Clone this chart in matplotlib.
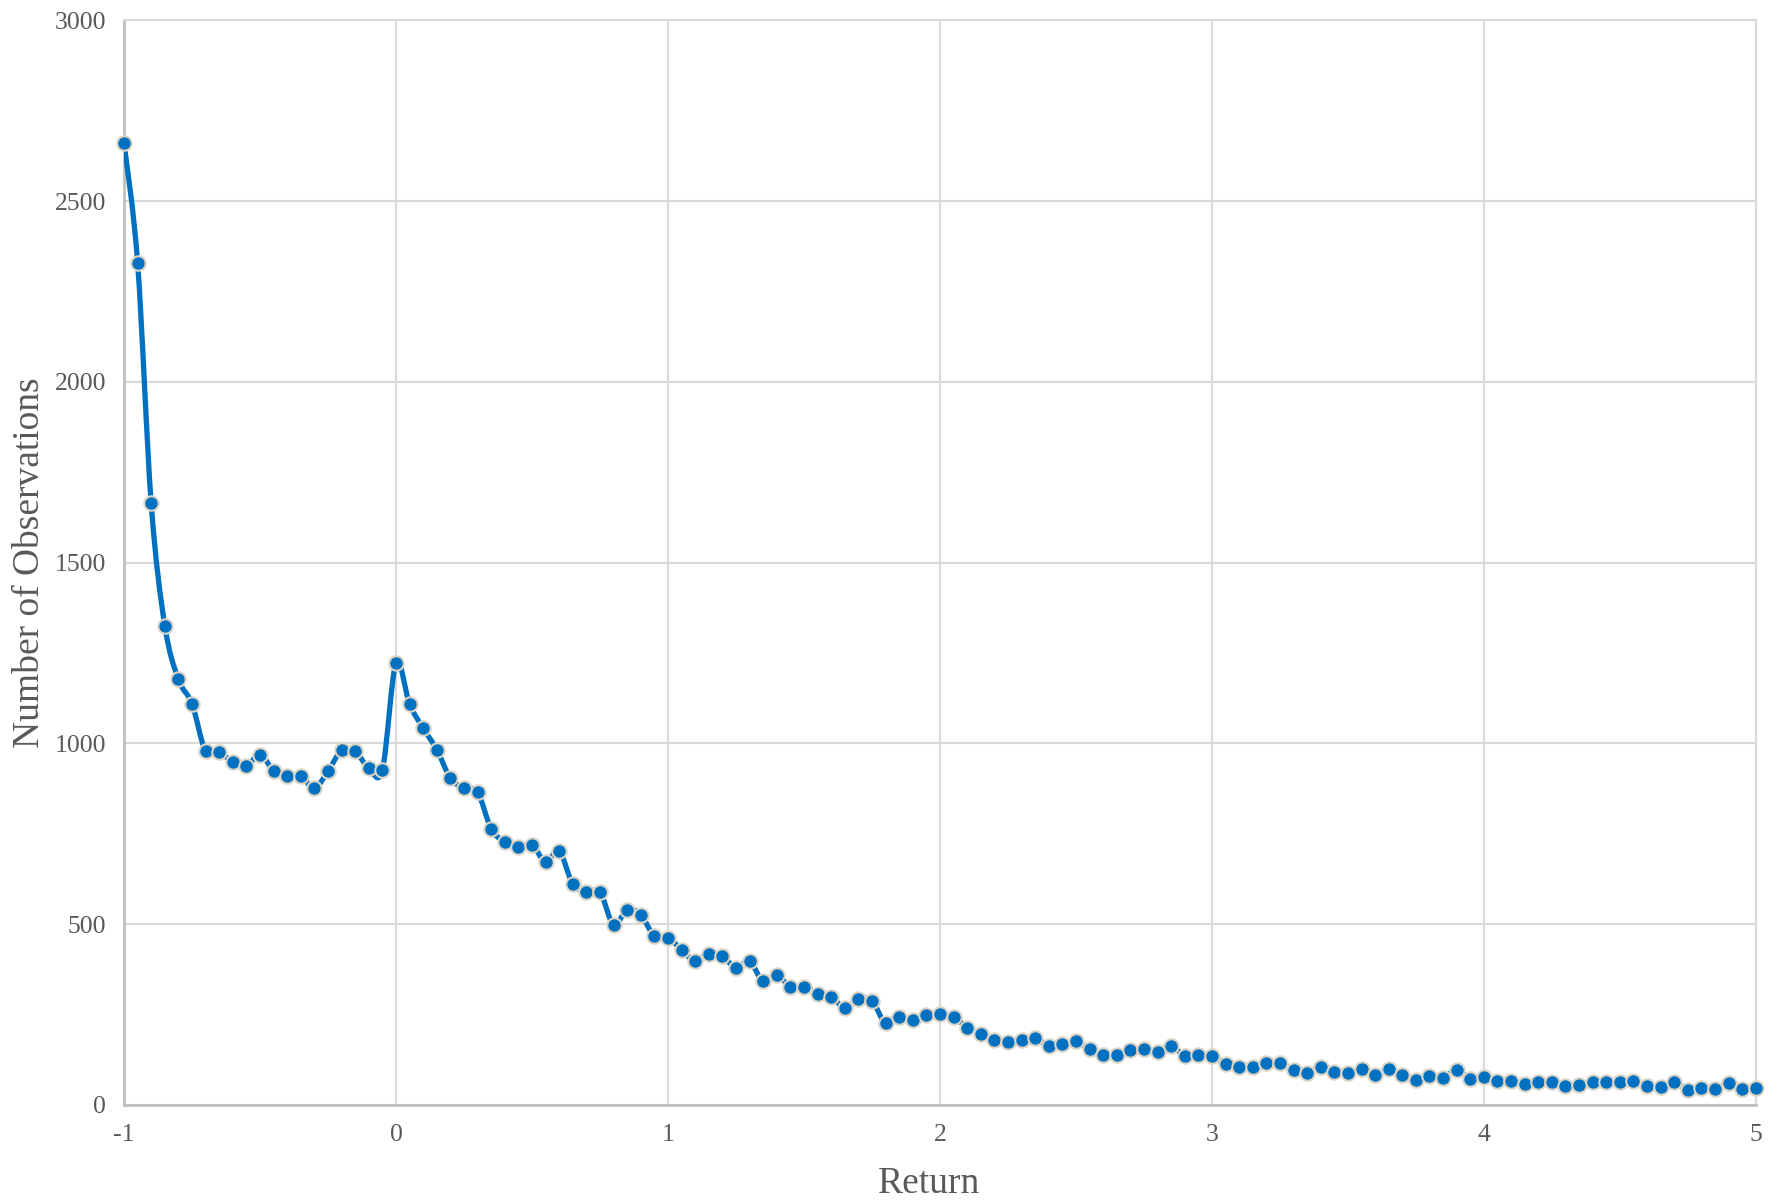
import matplotlib
matplotlib.use("Agg")
import matplotlib.pyplot as plt
from matplotlib.path import Path
from matplotlib.patches import PathPatch
import numpy as np

returns = [
    -1.00, -0.95, -0.90, -0.85, -0.80, -0.75, -0.70, -0.65, -0.60, -0.55,
    -0.50, -0.45, -0.40, -0.35, -0.30, -0.25, -0.20, -0.15, -0.10, -0.05,
    0.00, 0.05, 0.10, 0.15, 0.20, 0.25, 0.30, 0.35, 0.40, 0.45,
    0.50, 0.55, 0.60, 0.65, 0.70, 0.75, 0.80, 0.85, 0.90, 0.95,
    1.00, 1.05, 1.10, 1.15, 1.20, 1.25, 1.30, 1.35, 1.40, 1.45,
    1.50, 1.55, 1.60, 1.65, 1.70, 1.75, 1.80, 1.85, 1.90, 1.95,
    2.00, 2.05, 2.10, 2.15, 2.20, 2.25, 2.30, 2.35, 2.40, 2.45,
    2.50, 2.55, 2.60, 2.65, 2.70, 2.75, 2.80, 2.85, 2.90, 2.95,
    3.00, 3.05, 3.10, 3.15, 3.20, 3.25, 3.30, 3.35, 3.40, 3.45,
    3.50, 3.55, 3.60, 3.65, 3.70, 3.75, 3.80, 3.85, 3.90, 3.95,
    4.00, 4.05, 4.10, 4.15, 4.20, 4.25, 4.30, 4.35, 4.40, 4.45,
    4.50, 4.55, 4.60, 4.65, 4.70, 4.75, 4.80, 4.85, 4.90, 4.95,
    5.00,
]

observations = [
    2662, 2330, 1664, 1326, 1177, 1110, 978, 976, 948, 938,
    969, 925, 910, 910, 876, 923, 981, 978, 932, 927,
    1222, 1109, 1042, 983, 904, 876, 865, 764, 727, 714,
    720, 672, 702, 611, 589, 589, 498, 540, 526, 467,
    463, 429, 398, 418, 411, 380, 397, 342, 359, 327,
    327, 307, 299, 269, 292, 288, 226, 244, 235, 248,
    252, 244, 214, 195, 180, 173, 180, 186, 163, 168,
    176, 154, 137, 137, 151, 154, 147, 164, 135, 137,
    135, 113, 106, 106, 116, 116, 96, 89, 105, 90,
    88, 98, 82, 100, 83, 70, 80, 75, 97, 72,
    76, 67, 66, 57, 64, 64, 51, 55, 63, 64,
    63, 66, 51, 49, 64, 41, 46, 44, 60, 45,
    48,
]

x_ticks = [-1, 0, 1, 2, 3, 4, 5]
x_tick_labels = ["-1", "0", "1", "2", "3", "4", "5"]
y_ticks = [0, 500, 1000, 1500, 2000, 2500, 3000]
y_tick_labels = ["0", "500", "1000", "1500", "2000", "2500", "3000"]

LINE = "#0070C0"
EDGE = "#DCD4C4"
TEXT = "#595959"
GRID = "#D9D9D9"

plt.rcParams["font.family"] = ["Liberation Serif", "DejaVu Serif"]

fig = plt.figure(figsize=(17.79, 12.01), dpi=100)
ax = fig.add_axes([0.0697, 0.080, 0.9173, 0.903])

# smoothed line (Catmull-Rom style Bezier, like a spreadsheet's smoothed line)
px = np.asarray(returns, dtype=float)
py = np.asarray(observations, dtype=float)
pts = np.column_stack([px, py])
n = len(pts)
verts = [tuple(pts[0])]
codes = [Path.MOVETO]
for i in range(n - 1):
    p0 = pts[i - 1] if i > 0 else pts[i]
    p1 = pts[i]
    p2 = pts[i + 1]
    p3 = pts[i + 2] if i + 2 < n else pts[i + 1]
    c1 = p1 + (p2 - p0) / 6.0
    c2 = p2 - (p3 - p1) / 6.0
    verts += [tuple(c1), tuple(c2), tuple(p2)]
    codes += [Path.CURVE4, Path.CURVE4, Path.CURVE4]
patch = PathPatch(Path(verts, codes), facecolor="none", edgecolor=LINE,
                  linewidth=3.8, capstyle="round", joinstyle="round", zorder=3)
ax.add_patch(patch)

ax.plot(returns, observations, linestyle="none", marker="o", markersize=10.4,
        markerfacecolor=LINE, markeredgecolor=EDGE, markeredgewidth=1.5,
        zorder=4, clip_on=False)

ax.set_xlim(-1, 5)
ax.set_ylim(0, 3000)
ax.set_xticks(x_ticks)
ax.set_xticklabels(x_tick_labels)
ax.set_yticks(y_ticks)
ax.set_yticklabels(y_tick_labels)

ax.grid(True, color=GRID, linewidth=1.5, zorder=0)
ax.set_axisbelow(True)
for side in ["top", "right"]:
    ax.spines[side].set_color(GRID)
    ax.spines[side].set_linewidth(1.5)
for side in ["left", "bottom"]:
    ax.spines[side].set_color("#C0C0C0")
    ax.spines[side].set_linewidth(2.0)

ax.tick_params(axis="both", length=0, labelsize=18.5, labelcolor=TEXT)
ax.tick_params(axis="x", pad=14)
ax.tick_params(axis="y", pad=13)

ax.set_xlabel("Return", fontsize=27, color=TEXT)
ax.xaxis.set_label_coords(0.493, -0.057)
ax.set_ylabel("Number of Observations", fontsize=27, color=TEXT, labelpad=5)

fig.savefig("out.png", dpi=100, facecolor="white")
